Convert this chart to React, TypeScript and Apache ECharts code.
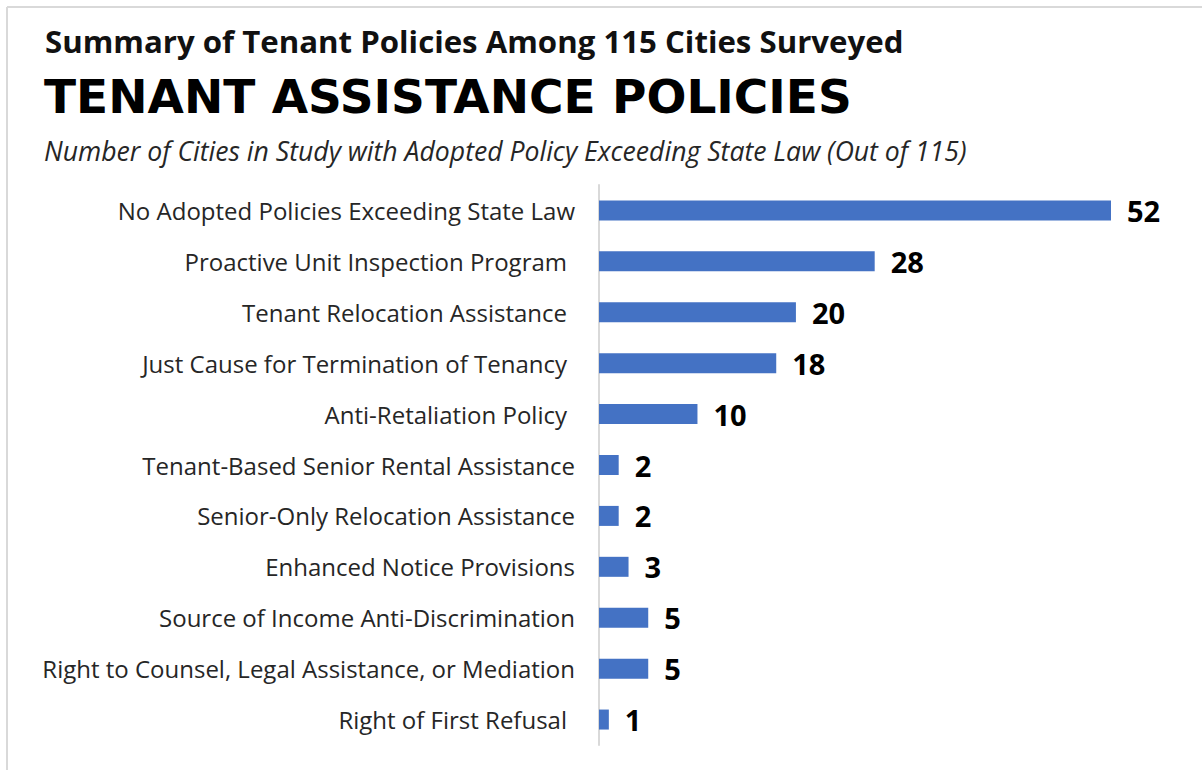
import React, { useEffect, useRef } from "react";
import * as echarts from "echarts";

const categories = [
  "No Adopted Policies Exceeding State Law",
  "Proactive Unit Inspection Program",
  "Tenant Relocation Assistance",
  "Just Cause for Termination of Tenancy",
  "Anti-Retaliation Policy",
  "Tenant-Based Senior Rental Assistance",
  "Senior-Only Relocation Assistance",
  "Enhanced Notice Provisions",
  "Source of Income Anti-Discrimination",
  "Right to Counsel, Legal Assistance, or Mediation",
  "Right of First Refusal",
];
const values = [52, 28, 20, 18, 10, 2, 2, 3, 5, 5, 1];
const paddedLabels = [
  "Proactive Unit Inspection Program",
  "Tenant Relocation Assistance",
  "Just Cause for Termination of Tenancy",
  "Anti-Retaliation Policy",
  "Right of First Refusal",
];

const title1 = "Summary of Tenant Policies Among 115 Cities Surveyed";
const title2 = "TENANT ASSISTANCE POLICIES";
const subtitle = "Number of Cities in Study with Adopted Policy Exceeding State Law (Out of 115)";

export default function App() {
  const ref = useRef<HTMLDivElement>(null);
  useEffect(() => {
    if (!ref.current) return;
    const chart = echarts.init(ref.current, null, { renderer: "svg" });
    const labelFont = "'Open Sans', 'Noto Sans', sans-serif";
    chart.setOption({
      animation: false,
      backgroundColor: "#ffffff",
      title: [
        {
          text: title1,
          left: 40,
          top: 20,
          textStyle: { fontFamily: labelFont, fontWeight: "bold", fontSize: 31.2, color: "#111111" },
        },
        {
          text: title2,
          left: 39,
          top: 68,
          textStyle: { fontFamily: "'DejaVu Sans', sans-serif", fontWeight: "bold", fontSize: 47, color: "#000000" },
        },
        {
          text: subtitle,
          left: 39,
          top: 132,
          textStyle: { fontFamily: labelFont, fontStyle: "italic", fontWeight: "normal", fontSize: 26.6, color: "#262626" },
        },
      ],
      graphic: [
        { type: "line", shape: { x1: 7, y1: 7, x2: 1202, y2: 7 }, style: { stroke: "#d9d9d9", lineWidth: 2 } },
        { type: "line", shape: { x1: 7, y1: 7, x2: 7, y2: 770 }, style: { stroke: "#d9d9d9", lineWidth: 2 } },
      ],
      grid: { left: 599, top: 185, width: 512, height: 560, containLabel: false },
      xAxis: {
        type: "value",
        min: 0,
        max: 52,
        show: false,
      },
      yAxis: {
        type: "category",
        data: categories,
        inverse: true,
        axisLine: { show: true, lineStyle: { color: "#d9d9d9", width: 2 } },
        axisTick: { show: false },
        axisLabel: {
          margin: 24,
          fontFamily: labelFont,
          fontSize: 24,
          color: "#262626",
          formatter: (v: string) => (paddedLabels.includes(v) ? `{p|${v}}` : v),
          rich: {
            p: { padding: [0, 8, 0, 0], fontFamily: labelFont, fontSize: 24, color: "#262626" },
          },
        },
      },
      series: [
        {
          type: "bar",
          data: values,
          barWidth: 20,
          itemStyle: { color: "#4472C4" },
          label: {
            show: true,
            position: "right",
            distance: 16,
            fontFamily: labelFont,
            fontWeight: "bold",
            fontSize: 29,
            color: "#000000",
          },
        },
      ],
    });
    return () => chart.dispose();
  }, []);
  return (
    <div
      ref={ref}
      style={{ position: "absolute", left: 0, top: 0, width: 1202, height: 770 }}
    />
  );
}
